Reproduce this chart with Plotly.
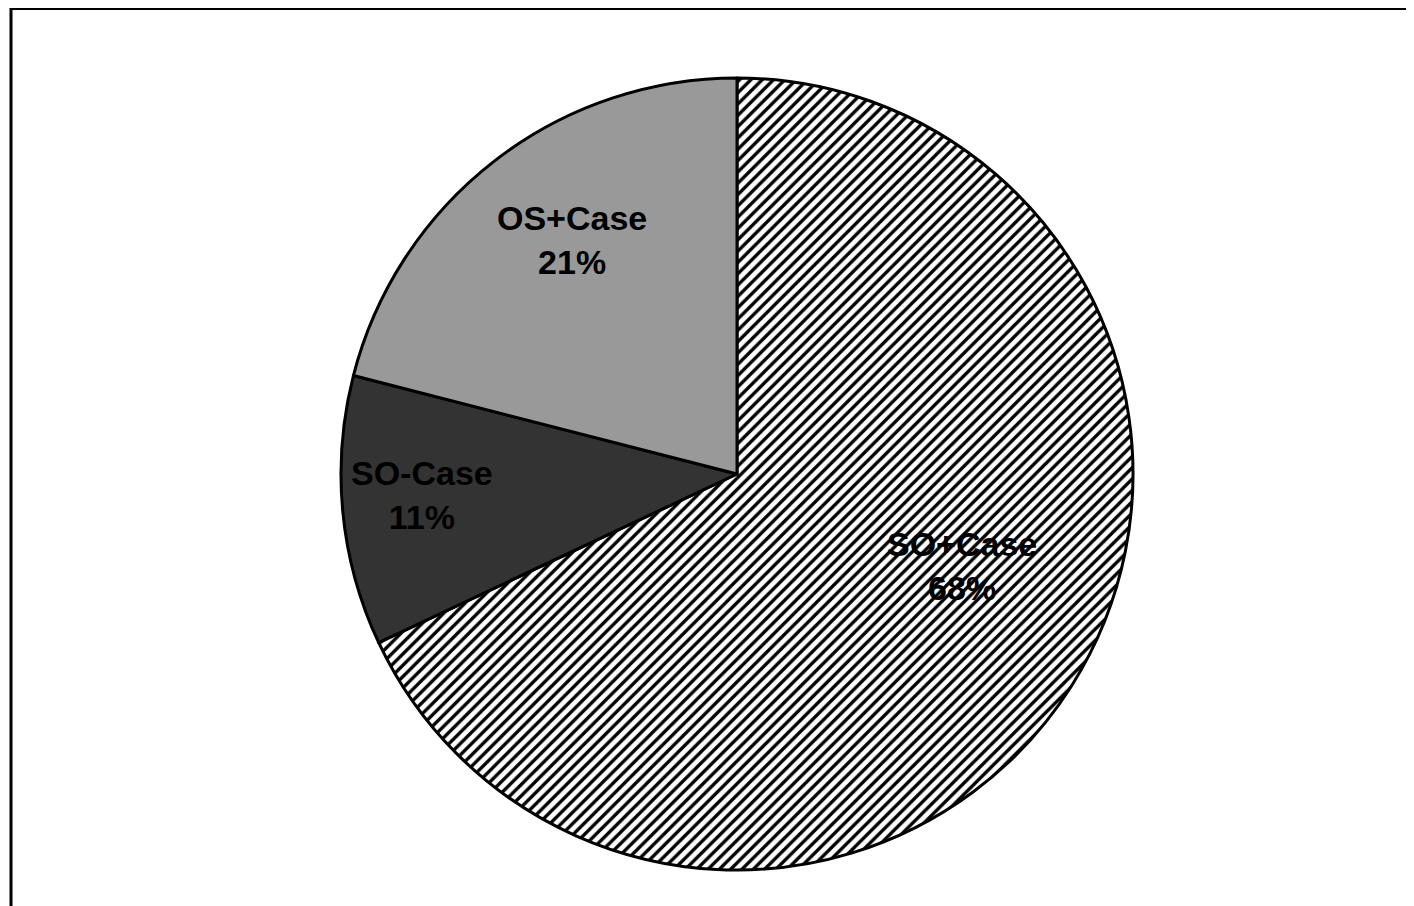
import plotly.graph_objects as go

labels = ["SO+Case", "SO-Case", "OS+Case"]
values = [68, 11, 21]
colors = ["#ffffff", "#333333", "#999999"]
patterns = ["/", "", ""]
# label anchor positions (paper fractions) for the slice labels
label_x = [0.675, 0.293, 0.399]
label_y = [0.384, 0.4625, 0.744]

W, H = 1414, 906
cx, cy, r = 729, 466, 396

fig = go.Figure()
fig.add_trace(go.Pie(
    labels=labels,
    values=values,
    sort=False,
    direction="clockwise",
    rotation=0,
    textinfo="none",
    hoverinfo="label+percent",
    showlegend=False,
    marker=dict(
        colors=colors,
        line=dict(color="black", width=3),
        pattern=dict(shape=patterns, fgcolor="black", bgcolor=colors,
                     size=8, solidity=0.42, fillmode="replace"),
    ),
    domain=dict(x=[(cx - r) / W, (cx + r) / W],
                y=[1 - (cy + r) / H, 1 - (cy - r) / H]),
))

total = sum(values)
for lab, v, x, y in zip(labels, values, label_x, label_y):
    fig.add_annotation(
        x=x, y=y, xref="paper", yref="paper",
        xanchor="center", yanchor="middle",
        text=f"<b>{lab}<br>{round(100 * v / total)}%</b>",
        showarrow=False, align="center",
        font=dict(family="Liberation Sans, Arial, sans-serif", size=34, color="black"),
    )

# frame lines (top and left)
fig.add_shape(type="line", xref="paper", yref="paper",
              x0=3 / W, x1=1.0, y0=1 - 0.5 / H, y1=1 - 0.5 / H,
              line=dict(color="black", width=3))
fig.add_shape(type="line", xref="paper", yref="paper",
              x0=3 / W, x1=3 / W, y0=0, y1=1,
              line=dict(color="black", width=3))

fig.update_layout(
    width=W, height=H,
    margin=dict(l=0, r=0, t=0, b=0),
    paper_bgcolor="white", plot_bgcolor="white",
)

fig.write_html("out.html")
